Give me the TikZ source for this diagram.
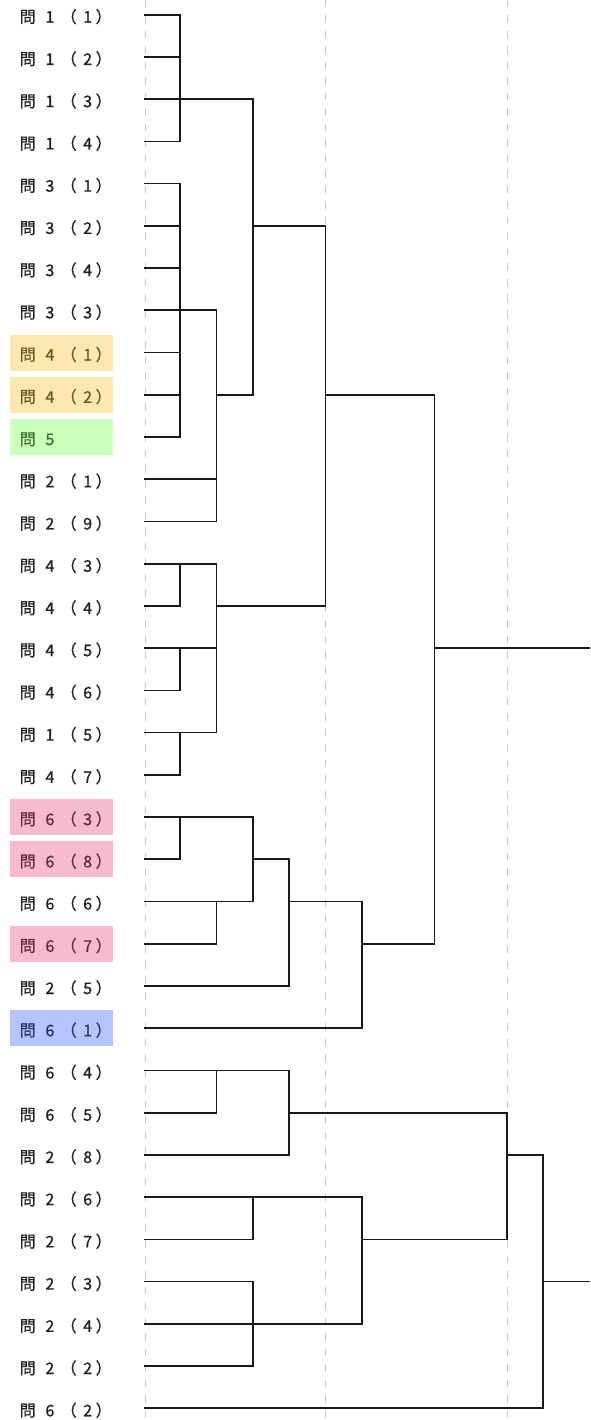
\documentclass[tikz,border=0pt]{standalone}
\usepackage{fontspec}
\newfontfamily\jp[FakeBold=1]{Noto Sans CJK JP}
\definecolor{ink}{HTML}{222222}
\definecolor{linec}{HTML}{1A1A1A}
\definecolor{gridc}{HTML}{C8C8C8}
\definecolor{ybg}{RGB}{255,232,176}\definecolor{ytx}{RGB}{111,88,32}
\definecolor{gbg}{RGB}{204,255,192}\definecolor{gtx}{RGB}{60,111,48}
\definecolor{pbg}{RGB}{248,187,206}\definecolor{ptx}{RGB}{104,43,62}
\definecolor{bbg}{RGB}{180,196,255}\definecolor{btx}{RGB}{36,52,111}
\newcommand\pc[2]{\makebox[0pt][l]{\hspace{#1pt}\makebox[0pt][c]{#2}}}
\newcommand\ql[2]{\makebox[110pt][l]{\pc{27.5}{問}\pc{49.7}{#1}\pc{68.5}{（}\pc{87.5}{#2}\pc{103.5}{）}}}
\newcommand\qs[1]{\makebox[110pt][l]{\pc{27.5}{問}\pc{49.7}{#1}}}
\newcommand\Y[1]{14.7+42.23*#1}
\newcommand\X[1]{144+36.3*#1}
\tikzset{
  lab/.style={inner sep=0pt, anchor=base west, font=\jp\fontsize{16}{16}\selectfont, text=ink},
  br/.style={draw=linec, line width=1.7pt},
  gridline/.style={draw=gridc, line width=0.9pt, dash pattern=on 7.5pt off 8pt},
  hl/.style={inner sep=0pt, minimum width=103pt, minimum height=36pt, anchor=west},
}
\begin{document}
\begin{tikzpicture}[x=1pt,y=-1pt]
\useasboundingbox[fill=white] (0,0) rectangle (590,1420);
% grid
\draw[gridline] (145,0) -- (145,1420);
\draw[gridline] (325.5,0) -- (325.5,1420);
\draw[gridline] (507,0) -- (507,1420);
% highlights
\foreach \i in {8,9} \node[hl, fill=ybg] (hy\i) at (10,{\Y{\i}}) {};
\node[hl, fill=gbg] (hg10) at (10,{\Y{10}}) {};
\foreach \i in {19,20,22} \node[hl, fill=pbg] (hp\i) at (10,{\Y{\i}}) {};
\node[hl, fill=bbg] (hb24) at (10,{\Y{24}}) {};
% labels
\node[lab] (t0) at (0,{\Y{0}+8}) {\ql{1}{1}};
\node[lab] (t1) at (0,{\Y{1}+8}) {\ql{1}{2}};
\node[lab] (t2) at (0,{\Y{2}+8}) {\ql{1}{3}};
\node[lab] (t3) at (0,{\Y{3}+8}) {\ql{1}{4}};
\node[lab] (t4) at (0,{\Y{4}+8}) {\ql{3}{1}};
\node[lab] (t5) at (0,{\Y{5}+8}) {\ql{3}{2}};
\node[lab] (t6) at (0,{\Y{6}+8}) {\ql{3}{4}};
\node[lab] (t7) at (0,{\Y{7}+8}) {\ql{3}{3}};
\node[lab, text=ytx] (t8) at (0,{\Y{8}+8}) {\ql{4}{1}};
\node[lab, text=ytx] (t9) at (0,{\Y{9}+8}) {\ql{4}{2}};
\node[lab, text=gtx] (t10) at (0,{\Y{10}+8}) {\qs{5}};
\node[lab] (t11) at (0,{\Y{11}+8}) {\ql{2}{1}};
\node[lab] (t12) at (0,{\Y{12}+8}) {\ql{2}{9}};
\node[lab] (t13) at (0,{\Y{13}+8}) {\ql{4}{3}};
\node[lab] (t14) at (0,{\Y{14}+8}) {\ql{4}{4}};
\node[lab] (t15) at (0,{\Y{15}+8}) {\ql{4}{5}};
\node[lab] (t16) at (0,{\Y{16}+8}) {\ql{4}{6}};
\node[lab] (t17) at (0,{\Y{17}+8}) {\ql{1}{5}};
\node[lab] (t18) at (0,{\Y{18}+8}) {\ql{4}{7}};
\node[lab, text=ptx] (t19) at (0,{\Y{19}+8}) {\ql{6}{3}};
\node[lab, text=ptx] (t20) at (0,{\Y{20}+8}) {\ql{6}{8}};
\node[lab] (t21) at (0,{\Y{21}+8}) {\ql{6}{6}};
\node[lab, text=ptx] (t22) at (0,{\Y{22}+8}) {\ql{6}{7}};
\node[lab] (t23) at (0,{\Y{23}+8}) {\ql{2}{5}};
\node[lab, text=btx] (t24) at (0,{\Y{24}+8}) {\ql{6}{1}};
\node[lab] (t25) at (0,{\Y{25}+8}) {\ql{6}{4}};
\node[lab] (t26) at (0,{\Y{26}+8}) {\ql{6}{5}};
\node[lab] (t27) at (0,{\Y{27}+8}) {\ql{2}{8}};
\node[lab] (t28) at (0,{\Y{28}+8}) {\ql{2}{6}};
\node[lab] (t29) at (0,{\Y{29}+8}) {\ql{2}{7}};
\node[lab] (t30) at (0,{\Y{30}+8}) {\ql{2}{3}};
\node[lab] (t31) at (0,{\Y{31}+8}) {\ql{2}{4}};
\node[lab] (t32) at (0,{\Y{32}+8}) {\ql{2}{2}};
\node[lab] (t33) at (0,{\Y{33}+8}) {\ql{6}{2}};
% leaf ends
\foreach \i in {0,...,33} \coordinate (L\i) at (144,{\Y{\i}});
% merge points
\coordinate (A)  at ({\X{1}},{\Y{2}});
\coordinate (B)  at ({\X{1}},{\Y{7}});
\coordinate (C)  at ({\X{2}},{\Y{9}});
\coordinate (D)  at ({\X{3}},{\Y{5}});
\coordinate (E1) at ({\X{1}},{\Y{13}});
\coordinate (E2) at ({\X{1}},{\Y{15}});
\coordinate (E3) at ({\X{1}},{\Y{17}});
\coordinate (E)  at ({\X{2}},{\Y{14}});
\coordinate (F)  at ({\X{5}},{\Y{9}});
\coordinate (G1) at ({\X{1}},{\Y{19}});
\coordinate (G2) at ({\X{2}},{\Y{21}});
\coordinate (G)  at ({\X{3}},{\Y{20}});
\coordinate (H)  at ({\X{4}},{\Y{21}});
\coordinate (I)  at ({\X{6}},{\Y{22}});
\coordinate (J)  at ({\X{8}},{\Y{15}});
\coordinate (Jend) at (590,{\Y{15}});
\coordinate (K1) at ({\X{2}},{\Y{25}});
\coordinate (K)  at ({\X{4}},{\Y{26}});
\coordinate (M1) at ({\X{3}},{\Y{28}});
\coordinate (M2) at ({\X{3}},{\Y{31}});
\coordinate (M)  at ({\X{6}},{\Y{29}});
\coordinate (N)  at ({\X{10}},{\Y{27}});
\coordinate (P)  at ({\X{11}},{\Y{30}});
\coordinate (Pend) at (590,{\Y{30}});
% connectors
\foreach \i in {0,...,3} \draw[br] (L\i) -| (A);
\foreach \i in {4,...,10} \draw[br] (L\i) -| (B);
\draw[br] (B) -| (C);
\draw[br] (L11) -| (C);
\draw[br] (L12) -| (C);
\draw[br] (A) -| (D);
\draw[br] (C) -| (D);
\draw[br] (L13) -| (E1); \draw[br] (L14) -| (E1);
\draw[br] (L15) -| (E2); \draw[br] (L16) -| (E2);
\draw[br] (L17) -| (E3); \draw[br] (L18) -| (E3);
\draw[br] (E1) -| (E); \draw[br] (E2) -| (E); \draw[br] (E3) -| (E);
\draw[br] (D) -| (F); \draw[br] (E) -| (F);
\draw[br] (L19) -| (G1); \draw[br] (L20) -| (G1);
\draw[br] (L21) -| (G2); \draw[br] (L22) -| (G2);
\draw[br] (G1) -| (G); \draw[br] (G2) -| (G);
\draw[br] (G) -| (H); \draw[br] (L23) -| (H);
\draw[br] (H) -| (I); \draw[br] (L24) -| (I);
\draw[br] (F) -| (J); \draw[br] (I) -| (J);
\draw[br] (J) -- (Jend);
\draw[br] (L25) -| (K1); \draw[br] (L26) -| (K1);
\draw[br] (K1) -| (K); \draw[br] (L27) -| (K);
\draw[br] (L28) -| (M1); \draw[br] (L29) -| (M1);
\draw[br] (L30) -| (M2); \draw[br] (L31) -| (M2); \draw[br] (L32) -| (M2);
\draw[br] (M1) -| (M); \draw[br] (M2) -| (M);
\draw[br] (K) -| (N); \draw[br] (M) -| (N);
\draw[br] (N) -| (P); \draw[br] (L33) -| (P);
\draw[br] (P) -- (Pend);
\end{tikzpicture}
\end{document}
